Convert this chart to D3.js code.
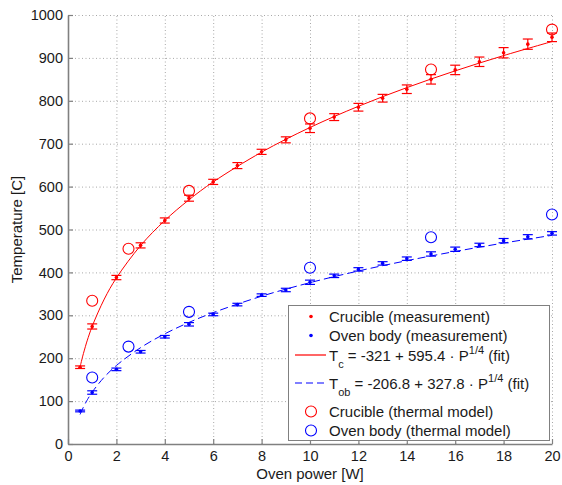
<!DOCTYPE html>
<html><head><meta charset="utf-8">
<script src="https://cdn.jsdelivr.net/npm/d3@7"></script>
<style>
body{margin:0;background:#fff;}
text{font-family:"Liberation Sans",Arial,Helvetica,sans-serif;}
</style></head><body>
<svg id="chart" width="562" height="485"></svg>
<script>
// ---- data ----
const power = [0.5,1,2,3,4,5,6,7,8,9,10,11,12,13,14,15,16,17,18,19,20];
const crucibleMeas = [179,274,388,463,521,573,611,649,681,709,736,762,785,806,827,850,872,891,912,932,948];
const crucibleErr  = [3,6,5,6,6,7,6,7,6,7,10,8,9,9,10,11,11,11,12,12,10];
const ovenMeas = [77,120,174,215,250,279,302,325,347,359,377,392,407,421,432,443,454,464,474,483,491];
const ovenErr  = [2,4,3,3,3,4,3,3,3,4,5,4,4,4,4,5,5,4,5,5,4];
const modelPower = [1,2.5,5,10,15,20];
const crucibleModel = [334,455,590,759,873,966];
const ovenModel = [155,227,308,411,482,535];
// fit curves sampled (T = a + b * P^(1/4))
const fitPower = [0.5,0.6,0.75,0.8,1,1.5,2,3,4,5,6,8,10,12,14,16,18,20];
const crucibleFit = [179.7,203.0,233.1,242.1,274.4,337.9,387.1,462.6,521.0,569.3,610.9,680.3,737.8,787.2,830.7,869.8,905.4,938.1];
const ovenFit = [68.9,81.7,98.2,103.2,121.0,156.0,183.0,224.6,256.8,283.4,306.2,344.5,376.1,403.3,427.3,448.8,468.4,486.4];
const xTicks = [0,2,4,6,8,10,12,14,16,18,20];
const yTicks = [0,100,200,300,400,500,600,700,800,900,1000];
const xLabel = "Oven power [W]";
const yLabel = "Temperature [C]";

const RED = "#ff0000", BLUE = "#0000ff";
const svg = d3.select("#chart");
const L = 68, R = 552, T = 15, B = 444;
const x = d3.scaleLinear().domain([0,20]).range([L,R]);
const y = d3.scaleLinear().domain([0,1000]).range([B,T]);

// grid
const grid = svg.append("g").attr("stroke","#a8a8a8").attr("stroke-width",1).attr("stroke-dasharray","1,2.5");
xTicks.filter(d=>d>0).forEach(d=>grid.append("line").attr("x1",x(d)+0.5).attr("x2",x(d)+0.5).attr("y1",B).attr("y2",T));
yTicks.filter(d=>d>0).forEach(d=>grid.append("line").attr("x1",L).attr("x2",R).attr("y1",y(d)+0.5).attr("y2",y(d)+0.5));

// axes
const xAxis = svg.append("g").attr("transform",`translate(0,${B})`)
  .call(d3.axisBottom(x).tickValues(xTicks).tickFormat(d3.format("d")).tickSizeInner(-5).tickSizeOuter(0).tickPadding(6.5));
const yAxis = svg.append("g").attr("transform",`translate(${L},0)`)
  .call(d3.axisLeft(y).tickValues(yTicks).tickFormat(d3.format("d")).tickSizeInner(-5).tickSizeOuter(0).tickPadding(5));
[xAxis,yAxis].forEach(a=>{
  a.select(".domain").attr("stroke","#808080").attr("stroke-width",1.6);
  a.selectAll(".tick line").attr("stroke","#808080").attr("stroke-width",1.2);
  a.selectAll(".tick text").attr("fill","#1a1a1a").style("font-size","14.5px").style("font-family","'Liberation Sans',Arial,sans-serif");
});

svg.append("text").attr("x",(L+R)/2).attr("y",478.5).attr("text-anchor","middle")
  .style("font-size","15px").attr("fill","#1a1a1a").text(xLabel);
svg.append("text").attr("transform",`translate(22,${(T+B)/2}) rotate(-90)`).attr("text-anchor","middle")
  .style("font-size","15px").attr("fill","#1a1a1a").text(yLabel);

// fit lines
const lineGen = d3.line().x(d=>x(d[0])).y(d=>y(d[1])).curve(d3.curveCatmullRom);
svg.append("path").datum(fitPower.map((p,i)=>[p,crucibleFit[i]])).attr("d",lineGen)
  .attr("fill","none").attr("stroke",RED).attr("stroke-width",1);
svg.append("path").datum(fitPower.map((p,i)=>[p,ovenFit[i]])).attr("d",lineGen)
  .attr("fill","none").attr("stroke",BLUE).attr("stroke-width",1).attr("stroke-dasharray","8,4");

// error bars + dots
function errSeries(vals, errs, color){
  const g = svg.append("g").attr("stroke",color).attr("stroke-width",1.2);
  power.forEach((p,i)=>{
    const cx = x(p), y1 = y(vals[i]-errs[i]), y2 = y(vals[i]+errs[i]);
    g.append("line").attr("x1",cx).attr("x2",cx).attr("y1",y1).attr("y2",y2);
    g.append("line").attr("x1",cx-5).attr("x2",cx+5).attr("y1",y1).attr("y2",y1);
    g.append("line").attr("x1",cx-5).attr("x2",cx+5).attr("y1",y2).attr("y2",y2);
  });
  svg.append("g").selectAll("circle").data(vals).join("circle")
    .attr("cx",(d,i)=>x(power[i])).attr("cy",d=>y(d)).attr("r",1.8).attr("fill",color);
}
errSeries(crucibleMeas, crucibleErr, RED);
errSeries(ovenMeas, ovenErr, BLUE);

// model circles
function circles(vals, color){
  svg.append("g").selectAll("circle").data(vals).join("circle")
    .attr("cx",(d,i)=>x(modelPower[i])).attr("cy",d=>y(d)).attr("r",5.5)
    .attr("fill","none").attr("stroke",color).attr("stroke-width",1.1);
}
circles(crucibleModel, RED);
circles(ovenModel, BLUE);

// legend
const lg = svg.append("g");
lg.append("rect").attr("x",288.5).attr("y",305.5).attr("width",261).attr("height",135)
  .attr("fill","#fff").attr("stroke","#808080").attr("stroke-width",1);
const tx = 329, fs = "15px";
function ltext(yc){ return lg.append("text").attr("x",tx).attr("y",yc+5).style("font-size",fs).attr("fill","#1a1a1a"); }
lg.append("circle").attr("cx",311).attr("cy",316.5).attr("r",1.8).attr("fill",RED);
ltext(316.5).text("Crucible (measurement)");
lg.append("circle").attr("cx",311).attr("cy",335.5).attr("r",1.8).attr("fill",BLUE);
ltext(335.5).text("Oven body (measurement)");
lg.append("line").attr("x1",295).attr("x2",326).attr("y1",355).attr("y2",355).attr("stroke",RED).attr("stroke-width",1.2);
let t = ltext(355.5);
t.append("tspan").text("T");
t.append("tspan").attr("dy",7).style("font-size","11px").text("c");
t.append("tspan").attr("dy",-7).text(" = -321 + 595.4 · P");
t.append("tspan").attr("dy",-7).style("font-size","11px").text("1/4");
t.append("tspan").attr("dy",7).text(" (fit)");
lg.append("line").attr("x1",295).attr("x2",326).attr("y1",383).attr("y2",383).attr("stroke",BLUE).attr("stroke-width",1.2).attr("stroke-dasharray","7,4");
t = ltext(383.5);
t.append("tspan").text("T");
t.append("tspan").attr("dy",7).style("font-size","11px").text("ob");
t.append("tspan").attr("dy",-7).text(" = -206.8 + 327.8 · P");
t.append("tspan").attr("dy",-7).style("font-size","11px").text("1/4");
t.append("tspan").attr("dy",7).text(" (fit)");
lg.append("circle").attr("cx",311).attr("cy",411.5).attr("r",5.5).attr("fill","none").attr("stroke",RED).attr("stroke-width",1.1);
ltext(411.5).text("Crucible (thermal model)");
lg.append("circle").attr("cx",311).attr("cy",430.5).attr("r",5.5).attr("fill","none").attr("stroke",BLUE).attr("stroke-width",1.1);
ltext(430.5).text("Oven body (thermal model)");
</script>
</body></html>
